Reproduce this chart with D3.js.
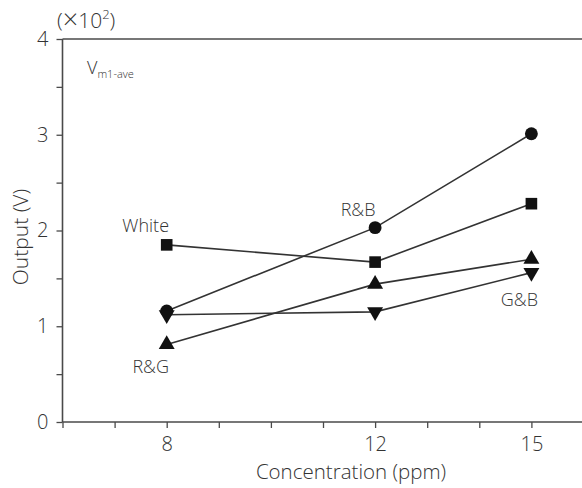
<!DOCTYPE html>
<html>
<head>
<meta charset="utf-8">
<script src="https://cdn.jsdelivr.net/npm/d3@7"></script>
<style>
  body { margin: 0; background: #fff; }
  text { font-family: "Open Sans", "Noto Sans", sans-serif; font-weight: 300; fill: #333; }
</style>
</head>
<body>
<script>
'use strict'
// concentrations (ppm) and output values (x10^2 V)
var concentration = [8, 12, 15];
var rbValues = [1.16, 2.03, 3.01];      // circles
var whiteValues = [1.85, 1.67, 2.28];   // squares
var rgValues = [0.81, 1.44, 1.70];      // up triangles
var gbValues = [1.12, 1.15, 1.56];      // down triangles
var xTickLabels = [8, 12, 15];
var yTickLabels = [0, 1, 2, 3, 4];

var width = 582, height = 488;
var x = d3.scaleLinear().domain([6, 16]).range([62.5, 583.5]);
var y = d3.scaleLinear().domain([0, 4]).range([422, 39]);

var svg = d3.select("body").append("svg")
  .attr("width", width)
  .attr("height", height);

var stroke = "#4a4a4a";

// x axis, minor ticks every 1 ppm
var xAxis = svg.append("g")
  .attr("transform", "translate(0," + y(0) + ")")
  .call(d3.axisBottom(x).tickValues(d3.range(6, 16)).tickSize(6).tickFormat(function(d){
    return xTickLabels.indexOf(d) >= 0 ? d : "";
  }));
xAxis.select(".domain").attr("stroke", stroke).attr("stroke-width", 1.6).attr("d", "M" + x(6) + ",0H582");
xAxis.selectAll(".tick line").attr("stroke", stroke).attr("stroke-width", 1.3);
xAxis.selectAll(".tick text").attr("font-size", 20).attr("y", 29).attr("dy", 0).style("fill", "#333");

// y axis, minor ticks every 0.5
var yAxis = svg.append("g")
  .attr("transform", "translate(" + x(6) + ",0)")
  .call(d3.axisLeft(y).tickValues(d3.range(0, 4.01, 0.5)).tickSize(6).tickFormat(function(d){
    return yTickLabels.indexOf(d) >= 0 ? d : "";
  }));
yAxis.select(".domain").attr("stroke", stroke).attr("stroke-width", 1.6).attr("d", "M0," + y(0) + "V" + y(4));
yAxis.selectAll(".tick line").attr("stroke", stroke).attr("stroke-width", 1.3);
yAxis.selectAll(".tick text").attr("font-size", 20).attr("x", -14).style("fill", "#333");

// top frame line
svg.append("line")
  .attr("x1", x(6)).attr("x2", width)
  .attr("y1", y(4)).attr("y2", y(4))
  .attr("stroke", stroke).attr("stroke-width", 1.6);

var series = [
  { name: "R&B", values: rbValues, symbol: d3.symbolCircle, size: 130, rot: 0 },
  { name: "White", values: whiteValues, symbol: d3.symbolSquare, size: 135, rot: 0 },
  { name: "R&G", values: rgValues, symbol: d3.symbolTriangle, size: 110, rot: 0 },
  { name: "G&B", values: gbValues, symbol: d3.symbolTriangle, size: 110, rot: 180 }
];

var line = d3.line()
  .x(function(d){ return x(d[0]); })
  .y(function(d){ return y(d[1]); });

series.forEach(function(s){
  var pts = concentration.map(function(c, i){ return [c, s.values[i]]; });
  svg.append("path")
    .attr("d", line(pts))
    .attr("fill", "none")
    .attr("stroke", "#333")
    .attr("stroke-width", 1.6);
});

series.forEach(function(s){
  var pts = concentration.map(function(c, i){ return [c, s.values[i]]; });
  svg.selectAll(null).data(pts).enter().append("path")
    .attr("d", d3.symbol().type(s.symbol).size(s.size))
    .attr("transform", function(d){
      return "translate(" + x(d[0]) + "," + y(d[1]) + ") rotate(" + s.rot + ")";
    })
    .attr("fill", "#111");
});

// series labels
var labels = [
  { text: "White", cx: 8, cy: 1.85, dx: -21, dy: -13 },
  { text: "R&B", cx: 12, cy: 2.03, dx: -17, dy: -12 },
  { text: "G&B", cx: 15, cy: 1.56, dx: -12, dy: 33 },
  { text: "R&G", cx: 8, cy: 0.81, dx: -16, dy: 29 }
];
labels.forEach(function(l){
  svg.append("text")
    .attr("x", x(l.cx) + l.dx)
    .attr("y", y(l.cy) + l.dy)
    .attr("text-anchor", "middle")
    .attr("font-size", 18)
    .text(l.text);
});

// V m1-ave annotation
var vt = svg.append("text").attr("x", 87).attr("y", 74).attr("font-size", 18);
vt.append("tspan").text("V");
vt.append("tspan").attr("font-size", 11).attr("dy", 4).text("m1-ave");

// multiplier
var mt = svg.append("text").attr("x", 57).attr("y", 28).attr("font-size", 21);
mt.append("tspan").text("(");
mt.append("tspan").attr("font-size", 27).attr("dy", 1).text("\u00d7");
mt.append("tspan").attr("dy", -1).text("10");
mt.append("tspan").attr("font-size", 13).attr("dy", -9).text("2");
mt.append("tspan").attr("dy", 9).text(")");

// axis titles
svg.append("text")
  .attr("x", 351).attr("y", 479)
  .attr("text-anchor", "middle")
  .attr("font-size", 20.5)
  .text("Concentration (ppm)");

svg.append("text")
  .attr("transform", "translate(28,237) rotate(-90)")
  .attr("text-anchor", "middle")
  .attr("font-size", 21)
  .text("Output (V)");
</script>
</body>
</html>
